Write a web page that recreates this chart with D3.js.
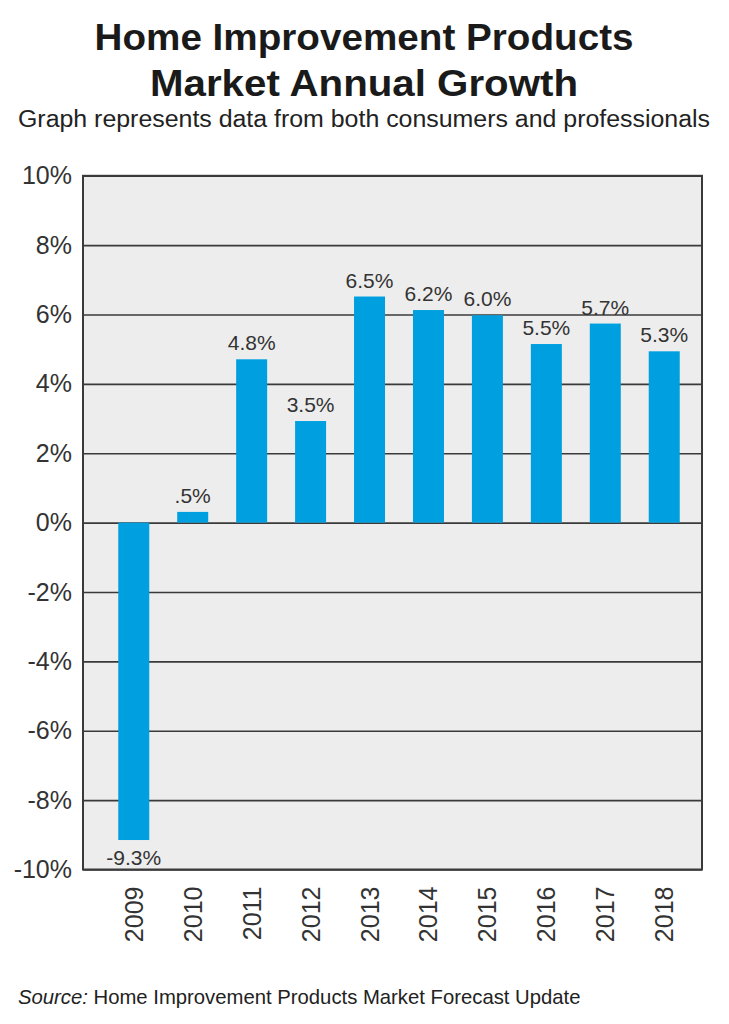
<!DOCTYPE html>
<html>
<head>
<meta charset="utf-8">
<script src="https://cdn.jsdelivr.net/npm/d3@7"></script>
<style>
  html, body { margin: 0; padding: 0; background: #fff; }
  svg { display: block; }
</style>
</head>
<body>
<svg id="chart" width="729" height="1024"></svg>
<script>
// ---- data ----
const years = ["2009","2010","2011","2012","2013","2014","2015","2016","2017","2018"];
const barValues = [-9.15, 0.31, 4.71, 2.93, 6.52, 6.13, 5.98, 5.15, 5.74, 4.94];
const valueLabels = ["-9.3%", ".5%", "4.8%", "3.5%", "6.5%", "6.2%", "6.0%", "5.5%", "5.7%", "5.3%"];
const yTicks = [-10, -8, -6, -4, -2, 0, 2, 4, 6, 8, 10];
const titleLines = ["Home Improvement Products", "Market Annual Growth"];
const subtitle = "Graph represents data from both consumers and professionals";
const sourceLabel = "Source:";
const sourceText = " Home Improvement Products Market Forecast Update";

// ---- layout ----
const svg = d3.select("#chart");
const plot = { left: 83, right: 702, top: 175.8, bottom: 869.5 };
const font = "'Liberation Sans', Arial, Helvetica, sans-serif";

const y = d3.scaleLinear().domain([-10, 10]).range([plot.bottom, plot.top]);
const x = d3.scaleBand().domain(years).range([104.3, 693.7]).paddingInner(0.474).paddingOuter(0.237);

// title
svg.selectAll("text.title").data(titleLines).enter().append("text")
  .attr("class", "title")
  .attr("x", 364)
  .attr("y", (d, i) => i === 0 ? 50 : 96)
  .attr("text-anchor", "middle")
  .attr("font-family", font)
  .attr("font-weight", "bold")
  .attr("font-size", 36)
  .attr("fill", "#1a1a1a")
  .attr("textLength", (d, i) => i === 0 ? 539 : 428)
  .attr("lengthAdjust", "spacingAndGlyphs")
  .text(d => d);

svg.append("text")
  .attr("x", 364).attr("y", 126.5)
  .attr("text-anchor", "middle")
  .attr("font-family", font)
  .attr("font-size", 23)
  .attr("fill", "#222")
  .attr("textLength", 692)
  .attr("lengthAdjust", "spacingAndGlyphs")
  .text(subtitle);

// plot background
svg.append("rect")
  .attr("x", plot.left).attr("y", plot.top)
  .attr("width", plot.right - plot.left).attr("height", plot.bottom - plot.top)
  .attr("fill", "#ededed");

// y axis with gridlines
const yAxis = svg.append("g")
  .attr("transform", `translate(${plot.left},0)`)
  .call(d3.axisLeft(y).tickValues(yTicks).tickSize(-(plot.right - plot.left)).tickPadding(11).tickFormat(d => d + "%"));
yAxis.select(".domain").remove();
yAxis.selectAll(".tick line").attr("stroke", "#3a3a3a").attr("stroke-width", 1.6);
yAxis.selectAll(".tick text")
  .attr("font-family", font).attr("font-size", 25).attr("fill", "#333");

// bars
svg.selectAll("rect.bar").data(years).enter().append("rect")
  .attr("class", "bar")
  .attr("x", d => x(d))
  .attr("width", x.bandwidth())
  .attr("y", (d, i) => y(Math.max(0, barValues[i])))
  .attr("height", (d, i) => Math.abs(y(barValues[i]) - y(0)))
  .attr("fill", "#00a0e0");

// value labels
svg.selectAll("text.vlabel").data(years).enter().append("text")
  .attr("class", "vlabel")
  .attr("x", d => x(d) + x.bandwidth() / 2)
  .attr("y", (d, i) => barValues[i] >= 0 ? y(barValues[i]) - 9 : y(barValues[i]) + 25)
  .attr("text-anchor", "middle")
  .attr("font-family", font)
  .attr("font-size", 21)
  .attr("fill", "#333")
  .text((d, i) => valueLabels[i]);

// plot border
svg.append("rect")
  .attr("x", plot.left).attr("y", plot.top)
  .attr("width", plot.right - plot.left).attr("height", plot.bottom - plot.top)
  .attr("fill", "none").attr("stroke", "#3a3a3a").attr("stroke-width", 2);

// x axis
const xAxis = svg.append("g")
  .attr("transform", `translate(0,${plot.bottom})`)
  .call(d3.axisBottom(x).tickSize(0).tickPadding(0));
xAxis.select(".domain").remove();
xAxis.selectAll(".tick text")
  .attr("transform", "rotate(-90)")
  .attr("text-anchor", "end")
  .attr("x", -17)
  .attr("y", 0)
  .attr("dy", "0.36em")
  .attr("font-family", font).attr("font-size", 25).attr("fill", "#333");

// source
const src = svg.append("text")
  .attr("x", 18).attr("y", 1004)
  .attr("font-family", font).attr("font-size", 20.3).attr("fill", "#222");
src.append("tspan").attr("font-style", "italic").text(sourceLabel);
src.append("tspan").text(sourceText);
</script>
</body>
</html>
